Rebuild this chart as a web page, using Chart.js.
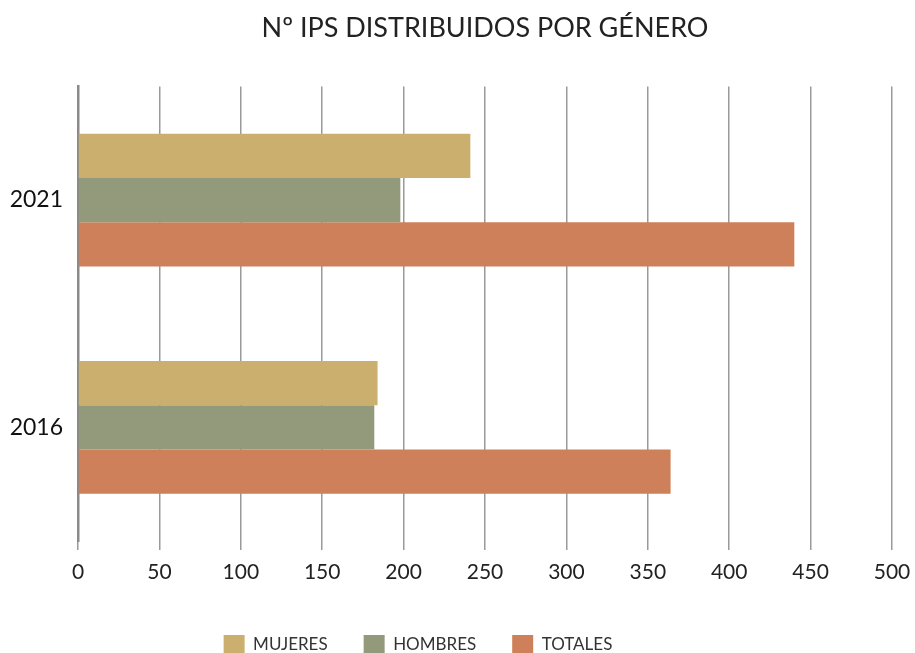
<!DOCTYPE html>
<html>
<head>
<meta charset="utf-8">
<script src="https://cdn.jsdelivr.net/npm/chart.js@4/dist/chart.umd.min.js"></script>
<style>
  body { margin: 0; background: #fff; }
  #wrap { width: 915px; height: 653px; }
</style>
</head>
<body>
<div id="wrap"><canvas id="chart"></canvas></div>
<script>
// data
const years = ['2021', '2016'];
const mujeres = [241, 184];
const hombres = [198, 182];
const totales = [440, 364];
const xTicks = [0, 50, 100, 150, 200, 250, 300, 350, 400, 450, 500];

const ctx = document.getElementById('chart').getContext('2d');
const myChart = new Chart(ctx, {
  type: 'bar',
  data: {
    labels: years,
    datasets: [
      { label: 'MUJERES', data: mujeres, backgroundColor: '#CBAF6E' },
      { label: 'HOMBRES', data: hombres, backgroundColor: '#929A7B' },
      { label: 'TOTALES', data: totales, backgroundColor: '#CE805A' }
    ]
  },
  options: {
    indexAxis: 'y',
    responsive: true,
    maintainAspectRatio: false,
    animation: false,
    datasets: { bar: { categoryPercentage: 0.584, barPercentage: 1.0 } },
    // negative left/bottom padding so the legend sits where the original has it
    layout: { padding: { left: -56, right: 23, top: 0, bottom: -12 } },
    scales: {
      x: {
        min: 0, max: 500,
        afterBuildTicks: (axis) => { axis.ticks = xTicks.map(v => ({ value: v })); },
        afterFit: (scale) => {
          scale.height = 58;
          scale.paddingLeft = 0;
          scale.paddingRight = 0;
        },
        grid: { color: '#9a9a9a', lineWidth: 1.5, drawTicks: true, tickLength: 9 },
        border: { display: false },
        ticks: { color: '#222', font: { family: 'Lato', size: 21 }, padding: 10 }
      },
      y: {
        afterFit: (scale) => { scale.width = 134; },
        grid: { display: false },
        border: { display: true, color: '#8a8a8a', width: 2.5 },
        ticks: { color: '#111', font: { family: 'Lato', size: 23 }, padding: 7 }
      }
    },
    plugins: {
      title: {
        display: true,
        fullSize: false,
        text: 'N\u00ba IPS DISTRIBUIDOS POR G\u00c9NERO',
        color: '#222',
        font: { family: 'Lato', size: 27, weight: 'normal' },
        padding: { top: 12, bottom: 42 }
      },
      legend: {
        position: 'bottom',
        labels: {
          color: '#333',
          font: { family: 'Lato', size: 17 },
          boxWidth: 21, boxHeight: 20, padding: 36
        }
      },
      tooltip: { enabled: false }
    }
  }
});
</script>
</body>
</html>
